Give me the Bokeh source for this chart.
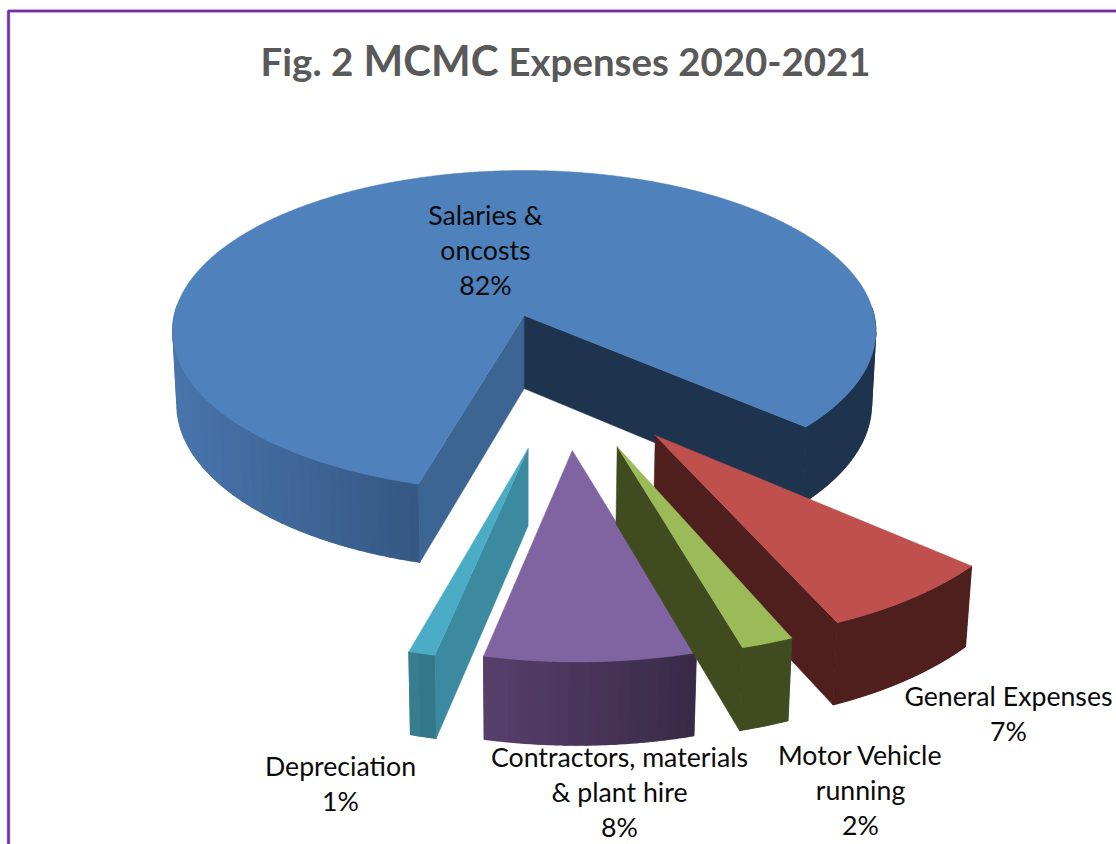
import numpy as np
from bokeh.core.properties import value
from bokeh.embed import file_html
from bokeh.models import ColumnDataSource, Range1d
from bokeh.plotting import figure
from bokeh.resources import INLINE

# Expense shares, in percent, clockwise from the largest slice
categories = ["Salaries &\noncosts", "General Expenses", "Motor Vehicle\nrunning",
              "Contractors, materials\n& plant hire", "Depreciation"]
shares = [82, 7, 2, 8, 1]
title_parts = ["Fig. 2", "MCMC", "Expenses 2020-2021"]

# Screen placement of the perspective view
CX, CY = 523.7, 315.0
RX, RY = 350.0, 159.0
TILT, SHRINK, DEPTH = 0.0966, 0.012, 74.0
FIRST_EDGE_DEG = -105.5  # where the first slice starts, running clockwise

# Per-slice styling: explode offset in pie radii, rim scale, small turn, painting order
explode_u = [0.0, 0.349, 0.246, 0.127, 0.0106]
explode_v = [0.0, -0.703, -0.763, -0.785, -0.774]
rim_scale = [1.0, 1.01, 1.013, 1.015, 1.022]
turn_deg = [-0.4, -0.45, -1.25, -0.8, -0.65]
paint_order = [0, 1, 3, 4, 2]
top_colors = ["#4f81bd", "#c0504d", "#9bbb59", "#8064a2", "#4bacc6"]
cut_colors = [("#3c6593", "#1e334d"), ("#4f1f1e", "#4f1f1e"), ("#404b20", "#404b20"),
              ("#3d2d50", "#3d2d50"), ("#3c8aa0", "#3c8aa0")]
# Wall shading: (screen x, colour) stops across each slice
wall_stops = [
    [(172, "#4874ab"), (420, "#355782"), (780, "#1e334d"), (880, "#1e334d")],
    [(820, "#4f1f1e"), (980, "#4f1f1e")],
    [(740, "#404b20"), (790, "#404b20")],
    [(485, "#573f6c"), (695, "#382a46")],
    [(405, "#38808f"), (440, "#2f6c7e")],
]
SHADE_STEP_PX = 10  # the wall shade changes once per this many screen pixels
# Label anchors (centre x, first-line y), one line every LINE_STEP pixels
label_x = [485, 1008, 860, 619, 340]
label_y = [214, 695, 754, 756, 765]
LINE_STEP = 35.3
# Title runs: left edge, vertical centre, size
title_x = [260, 363, 508]
title_y = [60, 59, 60]
title_size = ["38.6px", "42px", "38.4px"]


def project(u, v, drop=0.0):
    """Map pie-plane coordinates to the screen; drop=1 is the underside."""
    w = 1 + TILT * np.asarray(v) + SHRINK * drop
    return CX + RX * np.asarray(u) / w, CY + (-RY * np.asarray(v) + DEPTH * drop) / w


def hex_rgb(c):
    return np.array([int(c[i:i + 2], 16) for i in (1, 3, 5)], dtype=float)


def shade(stops, x):
    xs = [s[0] for s in stops]
    rgb = [np.interp(x, xs, [hex_rgb(s[1])[k] for s in stops]) for k in range(3)]
    return "#%02x%02x%02x" % tuple(int(round(c)) for c in rgb)


p = figure(width=1116, height=844, x_range=Range1d(0, 1116), y_range=Range1d(844, 0),
           output_backend="svg", toolbar_location=None, min_border=0,
           background_fill_color="white", border_fill_color="white")
p.axis.visible = False
p.grid.visible = False
p.outline_line_color = None

# Frame round the chart
for width, color, alpha in [(4.6, "#7030a0", 0.2), (2.6, "#7030a0", 1.0)]:
    p.line([8, 8, 1116], [844, 10.5, 10.5], line_color=color, line_width=width, line_alpha=alpha)

# Slice boundaries from the shares
edges = FIRST_EDGE_DEG - np.cumsum([0] + [s * 3.6 for s in shares])


def add_polys(xs, ys, colors, stroke=0.5):
    p.patches(xs, ys, fill_color=colors, line_color=colors, line_width=stroke,
              fill_alpha=1.0, line_alpha=1.0)


for i in paint_order:
    start = edges[i] + turn_deg[i]
    end = edges[i + 1] + turn_deg[i]
    theta = np.radians(np.linspace(start, end, max(12, int(abs(end - start) * 3))))
    u0, v0 = explode_u[i], explode_v[i]
    ru, rv = u0 + rim_scale[i] * np.cos(theta), v0 + rim_scale[i] * np.sin(theta)

    # Outer wall, the part facing the viewer. A first pass lays one solid polygon per
    # rim run (split where the rim turns back, to keep polygons simple); a second pass
    # paints overlapping shade bands on top of it.
    tx, ty = project(ru, rv)
    bx, by = project(ru, rv, 1.0)
    n = len(theta)
    facing = np.sin(theta) < 0.05
    shades = [shade(wall_stops[i], np.floor(x / SHADE_STEP_PX) * SHADE_STEP_PX) for x in tx]
    heading = np.sign(np.diff(tx, prepend=tx[0] - (tx[1] - tx[0])))
    for use_shade in (False, True):
        xs, ys, cols = [], [], []
        k0 = 0
        for k in range(1, n + 1):
            split = k == n or facing[k] != facing[k0] or heading[k] != heading[k0] \
                or (use_shade and shades[k] != shades[k0])
            if split:
                k1 = min(k + (2 if use_shade else 0), n - 1)
                if facing[k0]:
                    xs.append(list(tx[k0:k1 + 1]) + list(bx[k0:k1 + 1][::-1]))
                    ys.append(list(ty[k0:k1 + 1]) + list(by[k0:k1 + 1][::-1]))
                    cols.append(shades[(k0 + k1) // 2])
                k0 = k
        if xs:
            add_polys(xs, ys, cols)

    # Cut faces, only where they turn towards the viewer
    ax, ay = project(u0, v0)
    abx, aby = project(u0, v0, 1.0)
    mid = n // 2
    for idx, col in zip((0, -1), cut_colors[i]):
        ex, ey = tx[idx] - ax, ty[idx] - ay
        inside = ex * (ty[mid] - ay) - ey * (tx[mid] - ax)
        if inside * ex < 0:
            add_polys([[ax, tx[idx], bx[idx], abx]], [[ay, ty[idx], by[idx], aby]], [col])

    # Top face
    add_polys([[ax] + list(tx)], [[ay] + list(ty)], [top_colors[i]])

# Category labels with their percentages
lx, ly, lt = [], [], []
for name, share, x0, y0 in zip(categories, shares, label_x, label_y):
    for row, line in enumerate(name.split("\n") + [f"{share}%"]):
        lx.append(x0)
        ly.append(y0 + row * LINE_STEP)
        lt.append(line)
p.text(x="x", y="y", text="t", source=ColumnDataSource(dict(x=lx, y=ly, t=lt)),
       text_font=value("Lato"), text_font_size="26.7px", text_color="#0a0a0a",
       text_align="center", text_baseline="middle")

# Title in three runs, the acronym set larger
for part, x0, y0, size in zip(title_parts, title_x, title_y, title_size):
    p.text(x=[x0], y=[y0], text=[part], text_font=value("Lato"), text_font_size=size,
           text_font_style="bold", text_color="#595959", text_align="left",
           text_baseline="middle")

open("out.html", "w").write(file_html(p, INLINE))
